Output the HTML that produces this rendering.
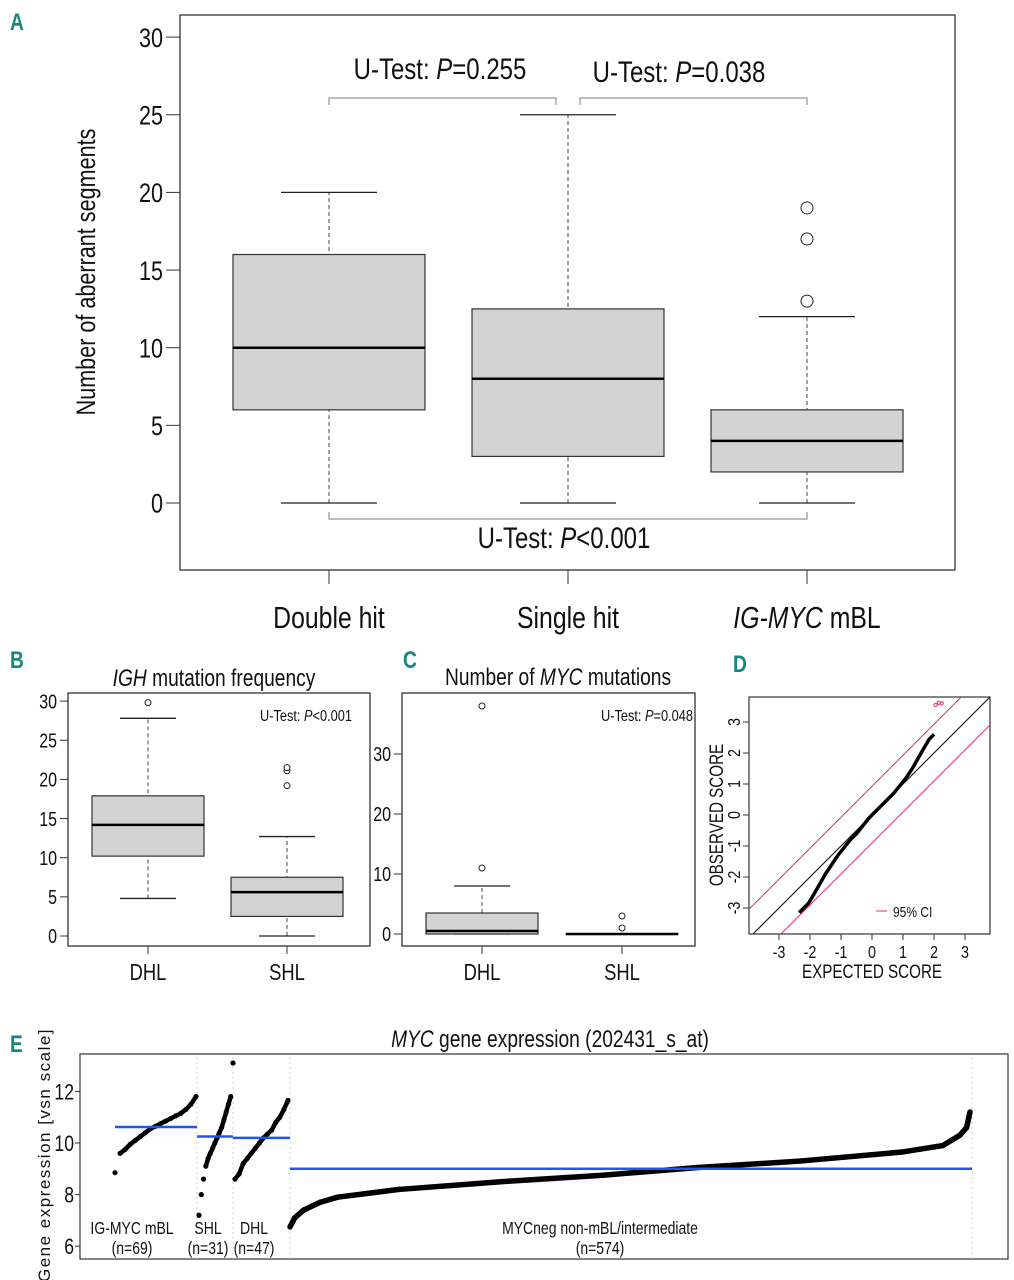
<!DOCTYPE html>
<html><head><meta charset="utf-8"><style>
html,body{margin:0;padding:0;background:#fff}
svg{display:block}
text{font-family:"Liberation Sans",sans-serif;fill:#111}
.lbl{font-family:"Liberation Sans",sans-serif;font-weight:bold;fill:#16877d;font-size:24px}
</style></head><body>
<svg id="fig" width="1014" height="1280" viewBox="0 0 1014 1280" xmlns="http://www.w3.org/2000/svg">
<text class="lbl" x="10" y="30" transform="translate(10 30) scale(0.8 1) translate(-10 -30)">A</text>
<text class="lbl" x="10" y="668" transform="translate(10 668) scale(0.8 1) translate(-10 -668)">B</text>
<text class="lbl" x="403" y="668" transform="translate(403 668) scale(0.8 1) translate(-403 -668)">C</text>
<text class="lbl" x="733" y="672" transform="translate(733 672) scale(0.8 1) translate(-733 -672)">D</text>
<text class="lbl" x="10" y="1052" transform="translate(10 1052) scale(0.8 1) translate(-10 -1052)">E</text>
<g id="ga"></g>
<g id="gb"></g>
<g id="gc"></g>
<g id="gd"></g>
<g id="ge"></g>
</svg>
<script>
// Panel A data
const aCats = ["Double hit","Single hit","IG-MYC mBL"];
const aLo = [0,0,0], aQ1=[6,3,2], aMed=[10,8,4], aQ3=[16,12.5,6], aHi=[20,25,12];
const aOut = [[],[],[13,17,19]];
const aTicks = [0,5,10,15,20,25,30];
// Panel B
const bCats=["DHL","SHL"];
const bLo=[4.8,0], bQ1=[10.2,2.5], bMed=[14.2,5.6], bQ3=[17.9,7.5], bHi=[27.8,12.7];
const bOut=[[29.8],[19.2,21.1,21.5]];
const bTicks=[0,5,10,15,20,25,30];
// Panel C
const cCats=["DHL","SHL"];
const cLo=[0,0], cQ1=[0,0], cMed=[0.5,0], cQ3=[3.5,0], cHi=[8,0];
const cOut=[[11,38],[1,3]];
const cTicks=[0,10,20,30];
// Panel D
const dExp=[-2.35,-2.2,-2.05,-1.9,-1.7,-1.5,-1.3,-1.1,-0.9,-0.7,-0.5,-0.3,-0.1,0.1,0.3,0.5,0.7,0.9,1.1,1.3,1.5,1.7,1.85,2.0];
const dObs=[-3.15,-3.0,-2.85,-2.6,-2.25,-1.9,-1.6,-1.3,-1.05,-0.8,-0.6,-0.35,-0.1,0.1,0.3,0.5,0.7,0.95,1.2,1.5,1.85,2.2,2.45,2.6];
const dTicks=[-3,-2,-1,0,1,2,3];
// Panel E
const eGroups=["IG-MYC mBL","SHL","DHL","MYCneg non-mBL/intermediate"];
const eN=[69,31,47,574];
const eMeans=[10.62,10.25,10.2,9.0];
const eMblV=[8.85,9.6,9.75,9.95,10.1,10.25,10.4,10.55,10.65,10.75,10.85,10.95,11.05,11.15,11.3,11.5,11.8];
const eShlV=[7.2,8.0,8.6,9.1,9.4,9.6,9.8,10.0,10.2,10.4,10.6,10.9,11.2,11.5,11.8,13.1];
const eDhlV=[8.6,8.8,9.2,9.4,9.6,9.8,10.0,10.2,10.35,10.5,10.8,11.0,11.3,11.65];
const eNegQ=[0,0.007,0.02,0.044,0.07,0.16,0.31,0.46,0.53,0.60,0.75,0.90,0.96,0.985,0.995,1.0];
const eNegV=[6.75,7.1,7.4,7.7,7.9,8.2,8.5,8.75,8.9,9.05,9.3,9.65,9.9,10.3,10.6,11.2];
const eTicks=[6,8,10,12];

const NS="http://www.w3.org/2000/svg";
const SX=0.8;
function mk(p,tag,at,txt){const e=document.createElementNS(NS,tag);for(const k in at)e.setAttribute(k,at[k]);if(txt!==undefined)e.textContent=txt;p.appendChild(e);return e;}
function T(p,x,y,fs,anchor,html,rot,extra){
  const e=mk(p,'text',Object.assign({x:0,y:0,'font-size':fs,'text-anchor':anchor||'start',transform:`translate(${x} ${y}) rotate(${rot||0}) scale(${SX} 1)`},extra||{}));
  e.innerHTML=html;return e;
}

function boxplot(g,o){
  const y=v=>o.y0-(v-o.vmin)*o.ppu;
  const fr=mk(g,'rect',{x:o.x0,y:o.top,width:o.x1-o.x0,height:o.bot-o.top,fill:'none',stroke:'#333','stroke-width':1.3});
  
  
  o.ticks.forEach(t=>{
    mk(g,'line',{x1:o.x0-o.tl,x2:o.x0,y1:y(t),y2:y(t),stroke:'#333'});
    const tx=T(g,o.x0-o.tl-3,y(t)+o.fs*0.36,o.fs,'end',String(t));
    
    
  });
  o.cats.forEach((c,i)=>{
    const cx=o.cx[i],hw=o.bw/2,ww=o.ww/2;
    const bx=mk(g,'g',{});
    
    
    mk(bx,'line',{x1:cx,x2:cx,y1:y(o.lo[i]),y2:y(o.hi[i]),stroke:'#444','stroke-dasharray':'4,3'});
    mk(bx,'line',{x1:cx-ww,x2:cx+ww,y1:y(o.lo[i]),y2:y(o.lo[i]),stroke:'#222','stroke-width':1.3});
    mk(bx,'line',{x1:cx-ww,x2:cx+ww,y1:y(o.hi[i]),y2:y(o.hi[i]),stroke:'#222','stroke-width':1.3});
    mk(bx,'rect',{x:cx-hw,y:y(o.q3[i]),width:o.bw,height:Math.max(0.5,y(o.q1[i])-y(o.q3[i])),fill:'#d3d3d3',stroke:'#333','stroke-width':1.2});
    mk(bx,'line',{x1:cx-hw,x2:cx+hw,y1:y(o.med[i]),y2:y(o.med[i]),stroke:'#000','stroke-width':o.mw});
    o.out[i].forEach(v=>mk(bx,'circle',{cx:cx,cy:y(v),r:o.r,fill:'#fff',stroke:'#222','stroke-width':1}));
    mk(g,'line',{x1:cx,x2:cx,y1:o.bot,y2:o.bot+o.tl,stroke:'#333'});
    const lt=T(g,cx,o.bot+o.xly,o.xfs,'middle',o.labels?o.labels[i]:c);
    
    
  });
  return y;
}
// A
const ga=document.getElementById('ga');
boxplot(ga,{x0:180,x1:955,top:15,bot:570,y0:503,vmin:0,ppu:15.53,ticks:aTicks,tl:14,fs:27,cats:aCats,labels:['Double hit','Single hit','<tspan font-style="italic">IG-MYC</tspan> mBL'],cx:[329,568,807],bw:192,ww:96,lo:aLo,q1:aQ1,med:aMed,q3:aQ3,hi:aHi,out:aOut,mw:2.5,r:6,xly:58,xfs:31});
T(ga,95,272,27,'middle','Number of aberrant segments',-90);
[[329,556],[580,807]].forEach(p=>mk(ga,'path',{d:`M${p[0]} 105V98H${p[1]}V105`,fill:'none',stroke:'#aaa','stroke-width':1.5}));
mk(ga,'path',{d:'M329 512V519H807V512',fill:'none',stroke:'#aaa','stroke-width':1.5});
T(ga,440,79,30,'middle','U-Test: <tspan font-style="italic">P</tspan>=0.255');
T(ga,679,82,30,'middle','U-Test: <tspan font-style="italic">P</tspan>=0.038');
T(ga,564,548,30,'middle','U-Test: <tspan font-style="italic">P</tspan>&lt;0.001');
// B
const gb=document.getElementById('gb');
boxplot(gb,{x0:68,x1:370,top:693,bot:946,y0:936,vmin:0,ppu:7.83,ticks:bTicks,tl:8,fs:20,cats:bCats,cx:[148,287],bw:112,ww:56,lo:bLo,q1:bQ1,med:bMed,q3:bQ3,hi:bHi,out:bOut,mw:2.5,r:3,xly:34,xfs:23});
T(gb,214,686,24,'middle','<tspan font-style="italic">IGH</tspan> mutation frequency');
T(gb,352,721,16,'end','U-Test: <tspan font-style="italic">P</tspan>&lt;0.001');
// C
const gc=document.getElementById('gc');
boxplot(gc,{x0:402,x1:695,top:693,bot:946,y0:934,vmin:0,ppu:6.0,ticks:cTicks,tl:8,fs:20,cats:cCats,cx:[482,622],bw:112,ww:56,lo:cLo,q1:cQ1,med:cMed,q3:cQ3,hi:cHi,out:cOut,mw:2.5,r:3,xly:34,xfs:23});
T(gc,558,685,24,'middle','Number of <tspan font-style="italic">MYC</tspan> mutations');
T(gc,693,721,16,'end','U-Test: <tspan font-style="italic">P</tspan>=0.048');
// D
const gd=document.getElementById('gd');
const dX0=749,dX1=990,dT=697,dB=934;
const dx=v=>872+v*31, dy=v=>815-v*31;
mk(gd,'rect',{x:dX0,y:dT,width:dX1-dX0,height:dB-dT,fill:'none',stroke:'#333','stroke-width':1.2});
mk(gd,'defs',{}).innerHTML='<clipPath id="dclip"><rect x="749" y="697" width="241" height="237"/></clipPath>';
const dc=mk(gd,'g',{'clip-path':'url(#dclip)'});
const lo=-5,hi=5;
mk(dc,'line',{x1:dx(lo),y1:dy(lo),x2:dx(hi),y2:dy(hi),stroke:'#222','stroke-width':1.2});
[0.93,-0.9].forEach(o=>mk(dc,'line',{x1:dx(lo),y1:dy(lo+o),x2:dx(hi),y2:dy(hi+o),stroke:'#e0306a','stroke-width':1}));
const qq=mk(dc,'polyline',{points:dExp.map((e,i)=>dx(e)+','+dy(dObs[i])).join(' '),fill:'none',stroke:'#000','stroke-width':3.5,'stroke-linejoin':'round'});


[[2.05,3.55],[2.15,3.62],[2.25,3.6]].forEach(p=>mk(dc,'circle',{cx:dx(p[0]),cy:dy(p[1]),r:1.6,fill:'none',stroke:'#e0306a'}));
dTicks.forEach(t=>{
  mk(gd,'line',{x1:dx(t),x2:dx(t),y1:dB,y2:dB+6,stroke:'#333'});
  T(gd,dx(t),dB+24,18,'middle',String(t));
  mk(gd,'line',{x1:dX0-6,x2:dX0,y1:dy(t),y2:dy(t),stroke:'#333'});
  T(gd,dX0-9,dy(t),18,'middle',String(t),-90);
});
T(gd,872,978,19,'middle','EXPECTED SCORE');
T(gd,723,815,19,'middle','OBSERVED SCORE',-90);
mk(gd,'line',{x1:876,x2:887,y1:911,y2:911,stroke:'#e0306a'});
T(gd,893,917,15,'start','95% CI');
// E
const ge=document.getElementById('ge');
const eX0=80,eX1=1008,eT=1054,eB=1259;
const ey=v=>1143-(v-10)*25.8;
mk(ge,'rect',{x:eX0,y:eT,width:eX1-eX0,height:eB-eT,fill:'none',stroke:'#333','stroke-width':1.2});
T(ge,550,1047,24,'middle','<tspan font-style="italic">MYC</tspan> gene expression (202431_s_at)');
mk(ge,'text',{x:50,y:1155,'font-size':17,'text-anchor':'middle','letter-spacing':'1.5',transform:'rotate(-90 50 1155)'},'Gene expression [vsn scale]');
eTicks.forEach(t=>{mk(ge,'line',{x1:eX0-5,x2:eX0,y1:ey(t),y2:ey(t),stroke:'#333'});T(ge,eX0-6,ey(t)+8,22,'end',String(t));});
const seps=[197,233,290,972];
seps.forEach(s=>mk(ge,'line',{x1:s,x2:s,y1:eT+3,y2:eB,stroke:'#ccc','stroke-dasharray':'2,3'}));
const ranges=[[115,196],[199,233],[235,288],[290,970]];
const vals=[eMblV,eShlV,eDhlV,eNegV];
vals.forEach((v,gi)=>{
  const [a,b]=ranges[gi];
  const q=gi===3?eNegQ:v.map((_,i)=>i/(v.length-1));
  const pts=v.map((val,i)=>[a+q[i]*(b-a),ey(val)]);
  const sg=mk(ge,'g',{});
  
  
  for(let i=1;i<pts.length;i++){
    if(gi===3 || Math.abs(v[i]-v[i-1])<0.4) mk(sg,'line',{x1:pts[i-1][0],y1:pts[i-1][1],x2:pts[i][0],y2:pts[i][1],stroke:'#000','stroke-width':gi===3?5.5:4.5,'stroke-linecap':'round'});
  }
  pts.forEach(p=>mk(sg,'circle',{cx:p[0],cy:p[1],r:2.6,fill:'#000'}));
  const ml=mk(ge,'line',{x1:gi===0?115:seps[gi-1],x2:seps[gi],y1:ey(eMeans[gi]),y2:ey(eMeans[gi]),stroke:'#2255ee','stroke-width':2.5});
  
  
});
const lx=[132,208,254,600];
eGroups.forEach((gname,i)=>{
  T(ge,lx[i],1234,17.5,'middle',gname);
  T(ge,lx[i],1254,17.5,'middle','(n='+eN[i]+')');
});
</script>
</body></html>
